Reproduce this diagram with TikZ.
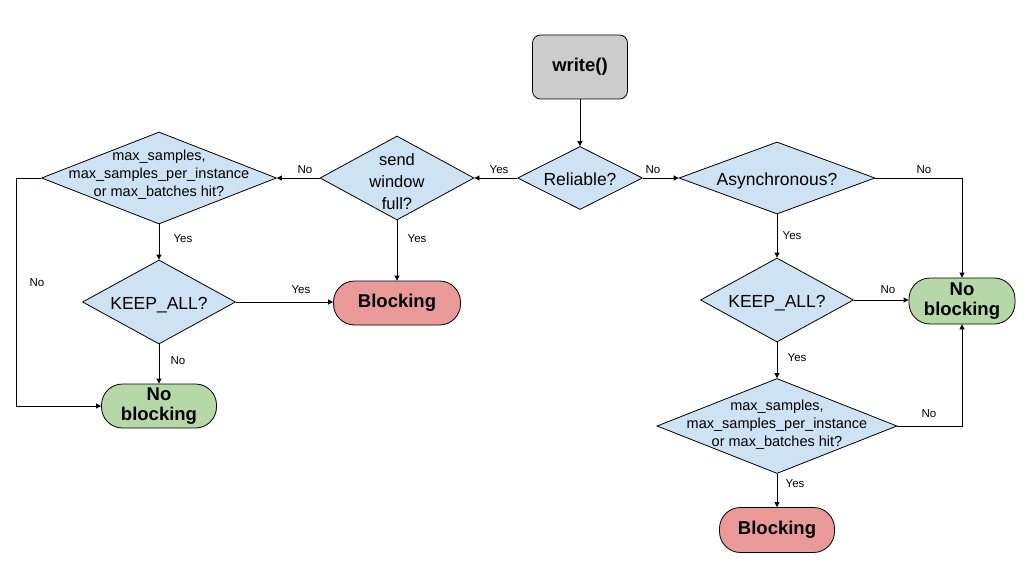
\documentclass[tikz,border=0pt]{standalone}
\usepackage{fontspec}
\setmainfont{Liberation Sans}
\usetikzlibrary{shapes.geometric,arrows.meta}
\definecolor{dfill}{HTML}{CFE2F3}
\definecolor{bfill}{HTML}{EA9999}
\definecolor{gfill}{HTML}{B6D7A8}
\definecolor{wfill}{HTML}{CCCCCC}
\newcommand\ctext[2][-0.44em]{\makebox[0pt]{\smash{\raisebox{#1}{\smash{\begin{tabular}{@{}c@{}}#2\end{tabular}}}}}}
\begin{document}
\begin{tikzpicture}[x=1pt,y=-1pt,
  dia/.style={diamond, draw, fill=dfill, inner sep=0pt, line width=0.8pt},
  big/.style={font=\fontsize{17.5}{20}\selectfont},
  small/.style={font=\fontsize{14.5}{18}\selectfont},
  term/.style={rectangle, rounded corners=21pt, draw, line width=0.8pt, inner sep=0pt, align=center, font=\fontsize{18.5}{20.5}\selectfont\bfseries},
  lbl/.style={font=\fontsize{11.5}{13}\selectfont, inner sep=0pt},
  arr/.style={-{Triangle[length=5pt,width=5pt]}, line width=0.8pt}]
\useasboundingbox[fill=white] (0,0) rectangle (1024,572);
% nodes
\node[term, rounded corners=8pt, fill=wfill, minimum width=95pt, minimum height=64pt] (write) at (580,67) {write()};
\node[dia, big, minimum width=125pt, minimum height=63pt] (rel) at (580,178) {\ctext{Reliable?}};
\node[dia, minimum width=154pt, minimum height=84pt, font=\fontsize{16.5}{22}\selectfont] (sendw) at (397,178) {\ctext[-0.56em]{send\\window\\full?}};
\node[dia, small, minimum width=235pt, minimum height=92pt] (lmax) at (159,178) {\ctext[-0.04em]{max\_samples,\\max\_samples\_per\_instance\\or max\_batches hit?}};
\node[dia, big, minimum width=153pt, minimum height=84pt] (lkeep) at (159,302) {\ctext{KEEP\_ALL?}};
\node[term, fill=bfill, minimum width=127pt, minimum height=44pt] (lblock) at (397,303) {Blocking};
\node[term, fill=gfill, minimum width=115pt, minimum height=44pt] (lnob) at (159,406) {No\\blocking};
\node[dia, big, minimum width=196pt, minimum height=72pt] (async) at (777,178) {\ctext{Asynchronous?}};
\node[dia, big, minimum width=153pt, minimum height=84pt] (rkeep) at (777,300) {\ctext{KEEP\_ALL?}};
\node[term, fill=gfill, minimum width=106pt, minimum height=46pt] (rnob) at (962,301) {No\\blocking};
\node[dia, small, minimum width=240pt, minimum height=95pt] (rmax) at (777,426) {\ctext[-0.17em]{max\_samples,\\max\_samples\_per\_instance\\or max\_batches hit?}};
\node[term, fill=bfill, minimum width=115pt, minimum height=45pt] (rblock) at (777,530) {Blocking};
\coordinate (lcorner) at (16,178);
% connectors
\draw[arr] (write) -- (rel);
\draw[arr] (rel) -- (sendw) node[lbl] at (499,170) {Yes};
\draw[arr] (rel) -- (async) node[lbl] at (653,170) {No};
\draw[arr] (sendw) -- (lmax) node[lbl] at (305,170) {No};
\draw[arr] (lmax) -- (lkeep) node[lbl] at (183,239) {Yes};
\draw[arr] (sendw) -- (lblock) node[lbl] at (417,239) {Yes};
\draw[arr] (lmax.west) -- (lcorner) |- (lnob.west) node[lbl] at (37,283) {No};
\draw[arr] (lkeep.east) -- (lkeep.east -| lblock.west) node[lbl] at (301,290) {Yes};
\draw[arr] (lkeep) -- (lnob) node[lbl] at (178,361) {No};
\draw[arr] (async.east) -| (rnob.north) node[lbl] at (924,170) {No};
\draw[arr] (async) -- (rkeep) node[lbl] at (792,236) {Yes};
\draw[arr] (rkeep.east) -- (rkeep.east -| rnob.west) node[lbl] at (888,290) {No};
\draw[arr] (rkeep) -- (rmax) node[lbl] at (797,358) {Yes};
\draw[arr] (rmax.east) -| (rnob.south) node[lbl] at (929,414) {No};
\draw[arr] (rmax) -- (rblock) node[lbl] at (795,484) {Yes};
\end{tikzpicture}
\end{document}
